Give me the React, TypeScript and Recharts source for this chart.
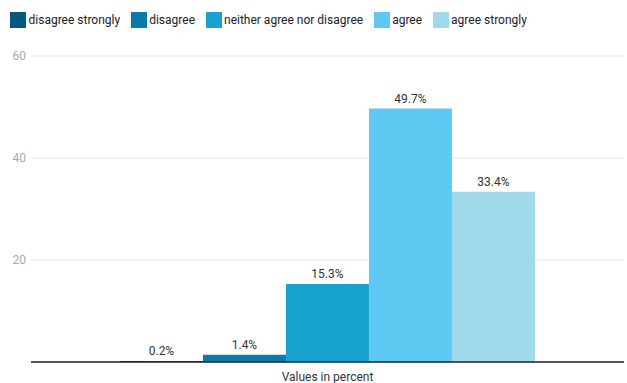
import React from "react";
import { BarChart, Bar, XAxis, YAxis, CartesianGrid, LabelList } from "recharts";

const categories = ["Values in percent"];
const seriesKeys = ["s1", "s2", "s3", "s4", "s5"];
const seriesNames = [
  "disagree strongly",
  "disagree",
  "neither agree nor disagree",
  "agree",
  "agree strongly",
];
const seriesValues = [0.2, 1.4, 15.3, 49.7, 33.4];
const seriesColors = ["#05587f", "#0a7ba8", "#18a2cf", "#5fc9f3", "#9fd9ea"];
const yTicks = [20, 40, 60];

const data = categories.map((c) => {
  const row: Record<string, string | number> = { name: c };
  seriesKeys.forEach((k, i) => {
    row[k] = seriesValues[i];
  });
  return row;
});

const FONT = "Roboto, 'Noto Sans', sans-serif";

export default function App() {
  return (
    <div
      style={{
        position: "absolute",
        left: 0,
        top: 0,
        width: 627,
        height: 383,
        background: "#fff",
        fontFamily: FONT,
      }}
    >
      <div
        style={{
          position: "absolute",
          left: 10,
          top: 12,
          display: "flex",
          alignItems: "center",
          fontSize: 12,
          color: "#222",
          whiteSpace: "nowrap",
          height: 16,
        }}
      >
        {seriesNames.map((n, i) => (
          <div key={n} style={{ display: "flex", alignItems: "center", marginRight: 10.5 }}>
            <span
              style={{
                display: "inline-block",
                width: 16,
                height: 16,
                background: seriesColors[i],
                marginRight: 2.5,
              }}
            />
            <span>{n}</span>
          </div>
        ))}
      </div>
      <BarChart
        width={627}
        height={383}
        data={data}
        margin={{ top: 56, right: 3, bottom: 0, left: 0 }}
        barCategoryGap="15%"
        barGap={0}
      >
        <CartesianGrid horizontal vertical={false} stroke="#e6e6e6" />
        <XAxis
          dataKey="name"
          height={21}
          axisLine={{ stroke: "#222", strokeWidth: 1.5 }}
          tickLine={false}
          tickSize={0}
          tickMargin={10}
          tick={{ fill: "#333", fontSize: 12, fontFamily: FONT }}
        />
        <YAxis
          width={31}
          domain={[0, 60]}
          ticks={yTicks}
          axisLine={false}
          tickLine={false}
          tickSize={0}
          tickMargin={5}
          tick={{ fill: "#aaa", fontSize: 12, fontFamily: FONT }}
        />
        {seriesKeys.map((k, i) => (
          <Bar key={k} dataKey={k} name={seriesNames[i]} fill={seriesColors[i]} isAnimationActive={false}>
            <LabelList
              dataKey={k}
              position="top"
              offset={6}
              formatter={(v: number) => `${v}%`}
              style={{ fill: "#333", fontSize: 12, fontFamily: FONT }}
            />
          </Bar>
        ))}
      </BarChart>
    </div>
  );
}
